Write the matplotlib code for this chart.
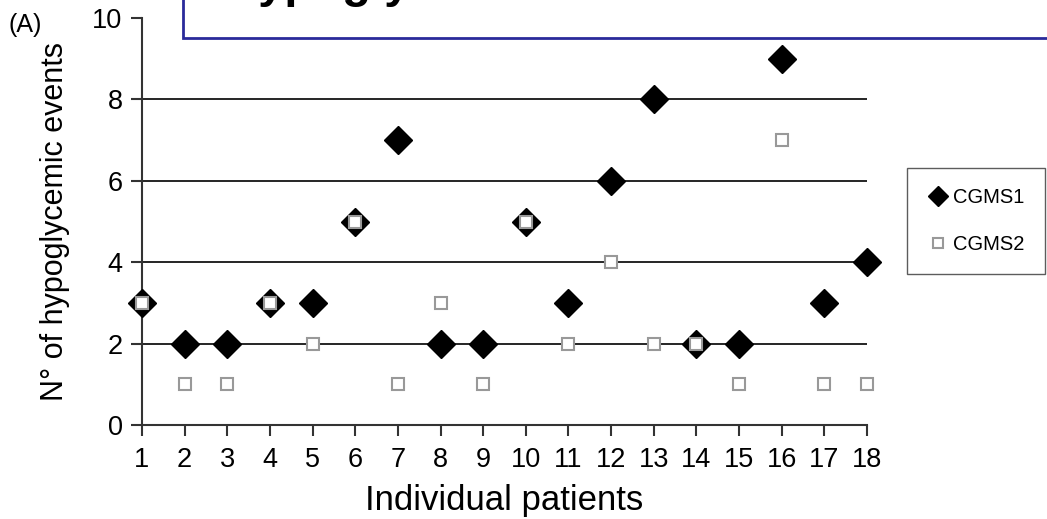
import matplotlib
matplotlib.use("Agg")
import matplotlib.pyplot as plt
from matplotlib.patches import Rectangle
from matplotlib.lines import Line2D

plt.rcParams["font.family"] = ["Liberation Sans", "DejaVu Sans"]

patients = list(range(1, 19))
cgms1 = [3, 2, 2, 3, 3, 5, 7, 2, 2, 5, 3, 6, 8, 2, 2, 9, 3, 4]
cgms2 = [3, 1, 1, 3, 2, 5, 1, 3, 1, 5, 2, 4, 2, 2, 1, 7, 1, 1]
y_ticks = [0, 2, 4, 6, 8, 10]
grid_levels = [2, 4, 6, 8]

W, H = 1047, 519
fig = plt.figure(figsize=(W / 100, H / 100), dpi=100)
ax = fig.add_axes([142 / W, 1 - 425 / H, (867 - 142) / W, (425 - 18) / H])

for g in grid_levels:
    ax.axhline(g, color="black", lw=1.2, zorder=1)

ax.plot(patients, cgms1, ls="none", marker="D", ms=14, color="black",
        clip_on=False, zorder=3)
ax.plot(patients, cgms2, ls="none", marker="s", ms=8.5, mfc="white",
        mec="#999999", mew=1.5, clip_on=False, zorder=4)

ax.set_xlim(1, 18)
ax.set_ylim(0, 10)
ax.set_xticks(patients)
ax.set_yticks(y_ticks)
ax.tick_params(axis="both", labelsize=19.5, width=1.5, length=8, color="#333333")
ax.tick_params(axis="x", pad=8)
ax.tick_params(axis="y", pad=6)
for s in ["top", "right"]:
    ax.spines[s].set_visible(False)
for s in ["left", "bottom"]:
    ax.spines[s].set_linewidth(1.5)
    ax.spines[s].set_color("#333333")
ax.spines["bottom"].set_bounds(1, 18)

ax.set_xlabel("Individual patients", fontsize=25, labelpad=8)
ax.set_ylabel("N\u00b0 of hypoglycemic events", fontsize=22, labelpad=16)

fig.text(9 / W, 1 - 32 / H, "(A)", fontsize=18)

handles = [
    Line2D([], [], ls="none", marker="D", ms=10, color="black"),
    Line2D([], [], ls="none", marker="s", ms=7, mfc="white", mec="#999999", mew=1.5),
]
fig.legend(handles, ["CGMS1", "CGMS2"], loc="upper left",
           bbox_to_anchor=(907 / W, 1 - 168 / H), bbox_transform=fig.transFigure,
           frameon=True, fancybox=False, edgecolor="#333333", fontsize=14.5,
           handletextpad=0.2, labelspacing=1.4, borderpad=1.0, handlelength=1.1,
           borderaxespad=0)

box = Rectangle((183 / W, 1 - 38 / H), 1.0, 0.2, transform=fig.transFigure,
                facecolor="white", edgecolor="#2a2a9a", lw=2, zorder=10)
fig.patches.append(box)
fig.text(225 / W, 1 + 3 / H, "Hypoglycemia", fontsize=34, fontweight="bold",
         va="baseline", ha="left", zorder=11)

fig.savefig("out.png", dpi=100)
